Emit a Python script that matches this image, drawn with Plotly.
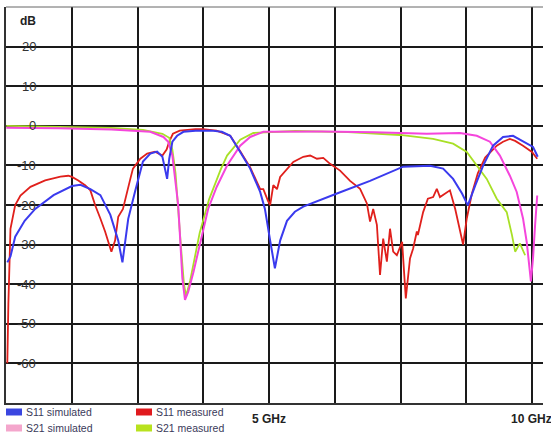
import plotly.graph_objects as go

# ---------------- data (GHz, dB) ----------------
s11_sim_f = [0.02, 0.08, 0.17, 0.35, 0.55, 0.9, 1.25, 1.41, 1.6, 1.79, 1.98, 2.13, 2.21,
             2.32, 2.45, 2.6, 2.74, 2.87, 2.97, 3.06, 3.1, 3.16, 3.25, 3.37, 3.6, 3.9, 4.1,
             4.26, 4.45, 4.64, 4.83, 4.92, 5.02, 5.11, 5.21, 5.34, 5.49, 5.65, 6.29, 6.92,
             7.55, 8.06, 8.31, 8.5, 8.67, 8.78, 8.92, 9.07, 9.26, 9.45, 9.64, 9.83, 10.02, 10.11]
s11_sim_db = [-34.5, -33, -28, -24, -21, -17.5, -15.2, -14.9, -16, -17.5, -22.5, -29, -34.5,
              -23.5, -16.6, -9, -7, -6.5, -7.8, -13.4, -8.3, -4, -2.5, -1.5, -1.2, -1.2, -1.5,
              -2.5, -6.6, -10.8, -16.7, -21, -29, -36, -29, -24, -21.7, -20.4, -17.1, -13.9,
              -10.3, -10.1, -10.8, -13.4, -17.1, -20.1, -15.1, -10.1, -5, -2.8, -2.5, -3.8, -5.3, -7.8]

s11_meas_f = [0.02, 0.04, 0.08, 0.17, 0.27, 0.46, 0.74, 1.03, 1.18, 1.25, 1.37, 1.5, 1.6, 1.69,
              1.79, 1.88, 2.0, 2.07, 2.13, 2.22, 2.36, 2.41, 2.55, 2.68, 2.83, 2.97, 3.05, 3.1,
              3.17, 3.3, 3.6, 3.74, 4.0, 4.26, 4.45, 4.64, 4.83, 4.89, 4.98, 5.02, 5.08, 5.15,
              5.21, 5.34, 5.46, 5.65, 5.78, 5.91, 6.03, 6.16, 6.35, 6.54, 6.73, 6.86, 6.92, 6.98,
              7.05, 7.11, 7.17, 7.24, 7.3, 7.36, 7.43, 7.53, 7.6, 7.68, 7.74, 7.81, 7.83, 7.93,
              8.02, 8.12, 8.19, 8.25, 8.38, 8.44, 8.54, 8.63, 8.69, 8.76, 8.86, 8.97, 9.11, 9.33,
              9.45, 9.58, 9.68, 9.83, 10.0, 10.1]
s11_meas_db = [-60, -45, -26, -20, -17.6, -15.4, -13.8, -12.8, -12.6, -12.9, -13.8, -15, -16.3, -20,
               -23.4, -26.7, -31.8, -29, -23, -21, -13.4, -10.8, -8.3, -7, -6.5, -7.5, -6, -4,
               -2, -1.2, -0.8, -0.8, -1.2, -2.5, -6.4, -10.5, -16, -16, -19, -20, -15, -16,
               -12.9, -10.8, -9.1, -7.8, -7.5, -8.3, -8.1, -9.6, -11.3, -13.9, -15.9, -19.6, -24.2, -21,
               -25, -37.7, -28.5, -34.3, -26, -31.8, -32.7, -29.3, -43.6, -33.5, -31, -26.7, -27.6, -21.8,
               -18.4, -18, -15.9, -18, -16.7, -16.3, -21, -26.7, -30, -23.4, -17, -12, -8, -5,
               -4, -3.3, -3.8, -5, -6.6, -8.3]

s21_sim_f = [0.0, 1.0, 2.0, 2.74, 2.99, 3.08, 3.16, 3.21, 3.27, 3.31, 3.35, 3.4, 3.46, 3.56,
             3.69, 3.75, 3.84, 4.0, 4.2, 4.45, 4.64, 4.89, 6.0, 7.0, 7.68, 8.0, 8.63, 8.95,
             9.2, 9.39, 9.58, 9.71, 9.83, 9.9, 9.98, 10.02, 10.06, 10.1]
s21_sim_db = [-0.5, -0.6, -0.9, -1.5, -2.8, -4, -7.5, -12.6, -20, -29, -38.5, -44, -42, -37,
              -29.5, -26, -21, -15.5, -10, -5, -2.8, -1.5, -1.4, -1.6, -2, -2, -1.8, -2.5,
              -4, -7.5, -12.6, -16.7, -23.4, -29.3, -39.3, -33.5, -25, -17.6]

s21_meas_f = [0.0, 1.0, 2.0, 2.6, 2.97, 3.1, 3.16, 3.22, 3.27, 3.32, 3.38, 3.42, 3.5, 3.6,
              3.68, 3.86, 4.08, 4.2, 4.45, 4.7, 5.5, 6.5, 7.49, 8.12, 8.5, 8.76, 8.95, 9.14,
              9.33, 9.52, 9.62, 9.68, 9.77, 9.87]
s21_meas_db = [0.0, -0.2, -0.5, -1, -2, -3, -6, -12, -20, -30, -40, -43, -39, -32,
               -27, -18.5, -11, -7.5, -3.5, -1.8, -1.3, -1.6, -2.3, -3.3, -4.5, -6.6, -10, -13.4,
               -18.4, -21.8, -27.6, -31.8, -29.7, -32.7]

y_ticks = [20, 10, 0, -10, -20, -30, -40, -50, -60]
x_labels = [(5, "5 GHz"), (10, "10 GHz")]
legend_items = [("S11 simulated", "#3a46e0"), ("S21 simulated", "#f4a6cc"),
                ("S11 measured", "#e01a1e"), ("S21 measured", "#b8e21e")]

# ---------------- figure ----------------
fig = go.Figure()
fig.add_trace(go.Scatter(x=s11_meas_f, y=s11_meas_db, mode="lines",
                         line=dict(color="#e0201c", width=1.8), name="S11 measured"))
fig.add_trace(go.Scatter(x=s21_meas_f, y=s21_meas_db, mode="lines",
                         line=dict(color="#a8e026", width=1.8), name="S21 measured"))
fig.add_trace(go.Scatter(x=s21_sim_f, y=s21_sim_db, mode="lines",
                         line=dict(color="#f545dc", width=2), name="S21 simulated"))
fig.add_trace(go.Scatter(x=s11_sim_f, y=s11_sim_db, mode="lines",
                         line=dict(color="#3a3aee", width=2), name="S11 simulated"))

W, H = 551, 436
ml, mr, mt, mb = 6, 8, 7, 33
fig.update_layout(
    width=W, height=H, margin=dict(l=ml, r=mr, t=mt, b=mb),
    paper_bgcolor="white", plot_bgcolor="white", showlegend=False,
    font=dict(family="Liberation Sans, Arial, sans-serif", color="#333"),
)
fig.update_xaxes(range=[-0.005, 10.21], tick0=0, dtick=1.25, showticklabels=False,
                 showgrid=True, gridcolor="#1a1a1a", gridwidth=2, zeroline=False,
                 ticks="", showline=True, linecolor="#333", linewidth=2)
fig.update_yaxes(range=[-70.05, 30.05], tick0=0, dtick=10, showticklabels=False,
                 showgrid=True, gridcolor="#1a1a1a", gridwidth=2, zeroline=False,
                 ticks="", showline=True, linecolor="#333", linewidth=2)

# thin top border
fig.add_shape(type="line", xref="paper", yref="paper", x0=0, x1=1, y0=1, y1=1,
              line=dict(color="#666", width=1))

# y tick labels inside plot
for v in y_ticks:
    fig.add_annotation(x=0.61, y=v, xref="x", yref="y", text=str(v), showarrow=False,
                       xanchor="right", yanchor="middle",
                       font=dict(size=13, color="#333"))
fig.add_annotation(x=0.61, y=26.4, xref="x", yref="y", text="<b>dB</b>", showarrow=False,
                   xanchor="right", yanchor="middle", font=dict(size=12, color="#222"))

# x labels
for xv, t in x_labels:
    fig.add_annotation(x=xv, y=-0.04, xref="x", yref="paper", text="<b>" + t + "</b>",
                       showarrow=False, xanchor="center", yanchor="middle",
                       font=dict(size=12, color="#222"))

# legend (swatches + text) in pixel positions
def px(x):
    return (x - ml) / (W - ml - mr)

def py(y):
    return 1 - (y - mt) / (H - mt - mb)

pos = [(6, 412), (6, 428), (136, 412), (136, 428)]
for (label, col), (lx, ly) in zip(legend_items, pos):
    fig.add_shape(type="rect", xref="paper", yref="paper",
                  x0=px(lx), x1=px(lx + 16), y0=py(ly + 3.5), y1=py(ly - 3.5),
                  fillcolor=col, line=dict(width=0))
    fig.add_annotation(x=px(lx + 18), y=py(ly), xref="paper", yref="paper", text=label,
                       showarrow=False, xanchor="left", yanchor="middle",
                       font=dict(size=10.5, color="#3a3a5a"))

fig.write_html("out.html")
